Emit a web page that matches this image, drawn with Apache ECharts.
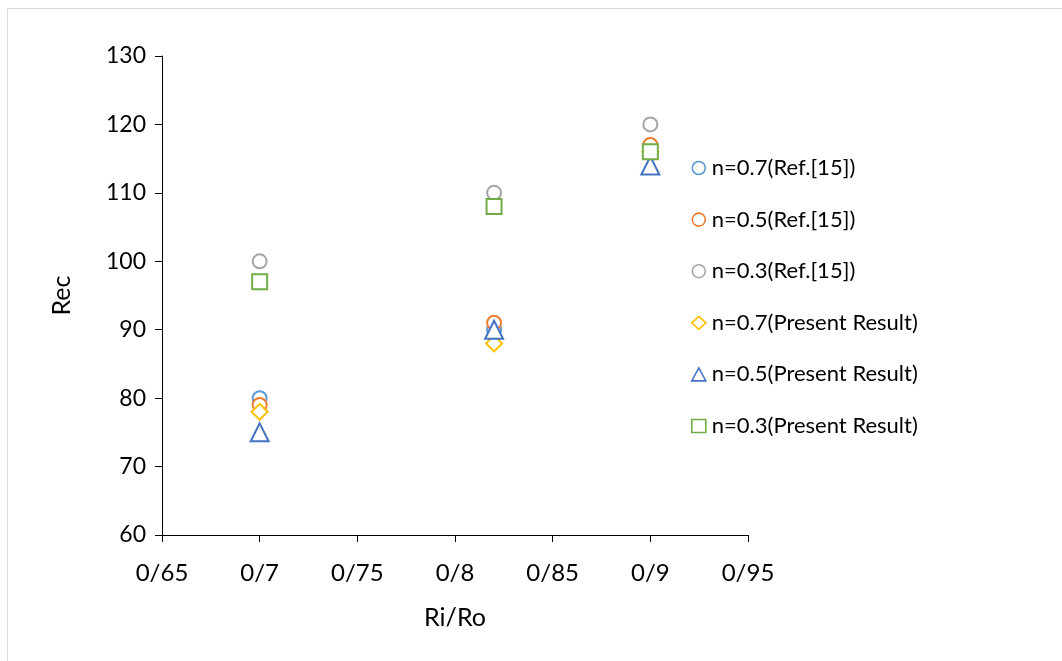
<!DOCTYPE html>
<html><head><meta charset="utf-8">
<script src="https://cdn.jsdelivr.net/npm/echarts@6/dist/echarts.min.js"></script>
<style>html,body{margin:0;padding:0;background:#fff}#c{width:1062px;height:661px}</style>
</head><body><div id="c"></div>
<script>
const xValues = [0.7, 0.82, 0.9];
const seriesNames = ['n=0.7(Ref.[15])','n=0.5(Ref.[15])','n=0.3(Ref.[15])','n=0.7(Present Result)','n=0.5(Present Result)','n=0.3(Present Result)'];
const ref07 = [80, 90, 116];
const ref05 = [79, 91, 117];
const ref03 = [100, 110, 120];
const pres07 = [78, 88, 116];
const pres05 = [75, 90, 114];
const pres03 = [97, 108, 116];
const seriesValues = [ref07, ref05, ref03, pres07, pres05, pres03];
const symbols = ['emptyCircle','emptyCircle','emptyCircle','emptyDiamond','emptyTriangle','emptyRect'];
const symbolSizes = [14,14,14,16,18,15];
const colors = ['#5B9BD5','#ED7D31','#A5A5A5','#FFC000','#4472C4','#70AD47'];
const FONT = 'Lato';

const chart = echarts.init(document.getElementById('c'));
chart.setOption({
  animation:false,
  graphic:[{type:'rect',shape:{x:7.5,y:8.5,width:1100,height:700},style:{fill:'none',stroke:'#d9d9d9',lineWidth:1},silent:true}],
  grid:{left:162,right:314,top:56,bottom:126},
  xAxis:{type:'value',min:0.65,max:0.95,interval:0.05,
    name:'Ri/Ro',nameLocation:'middle',nameGap:70,nameTextStyle:{fontFamily:FONT,fontSize:25,color:'#000'},
    axisLine:{show:true,lineStyle:{color:'#000',width:1}},
    axisTick:{show:true,inside:false,length:7,lineStyle:{color:'#000'}},
    splitLine:{show:false},
    axisLabel:{fontFamily:FONT,fontSize:24,color:'#000',margin:26,
      formatter:v=>String(Math.round(v*100)/100).replace('.','/')}},
  yAxis:{type:'value',min:60,max:130,interval:10,
    name:'Rec',nameLocation:'middle',nameGap:88,nameTextStyle:{fontFamily:FONT,fontSize:25,color:'#000'},
    axisLine:{show:true,lineStyle:{color:'#000',width:1}},
    axisTick:{show:true,inside:false,length:7,lineStyle:{color:'#000'}},
    splitLine:{show:false},
    axisLabel:{fontFamily:FONT,fontSize:23,color:'#000',margin:16}},
  legend:{orient:'vertical',left:686,top:152,itemGap:29.6,itemWidth:14,itemHeight:13,
    textStyle:{fontFamily:FONT,fontSize:22,color:'#000',padding:[0,0,0,1]},
    data:seriesNames.map((n,i)=>({name:n,icon:symbols[i]==='emptyCircle'?'circle':symbols[i]==='emptyDiamond'?'diamond':symbols[i]==='emptyTriangle'?'triangle':'rect',
      itemStyle:{color:'#fff',borderColor:colors[i],borderWidth:1.6}}))},
  series:seriesNames.map((n,i)=>({
    name:n,type:'scatter',symbol:symbols[i],symbolSize:symbolSizes[i],
    itemStyle:{color:colors[i],borderWidth:1.8,opacity:1},
    data:xValues.map((x,j)=>[x,seriesValues[i][j]])
  }))
});
</script></body></html>
